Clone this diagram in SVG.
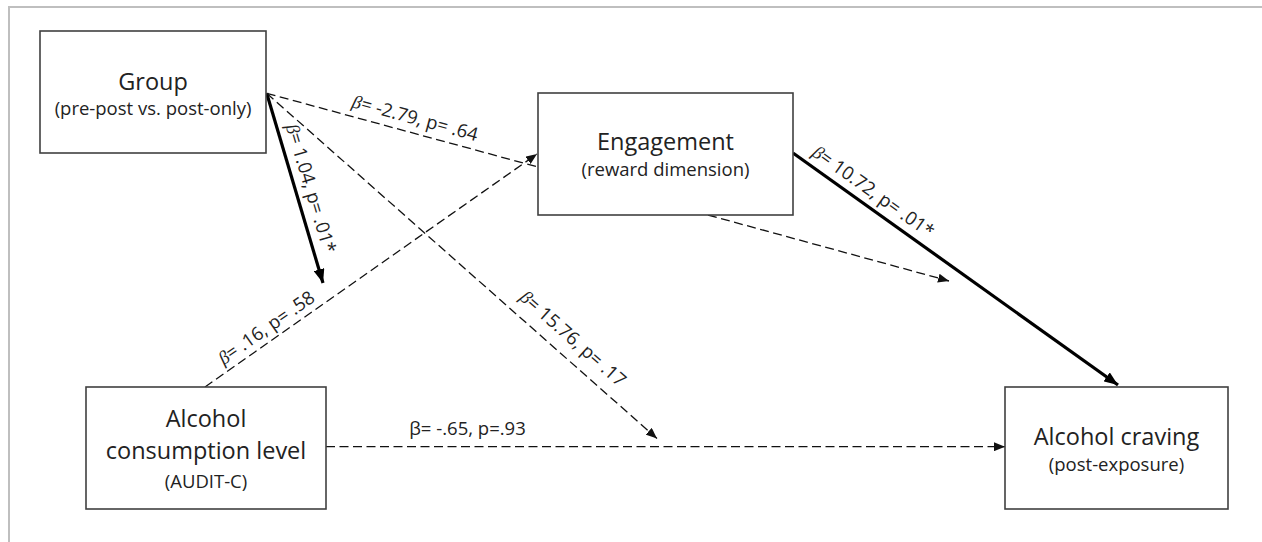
<svg xmlns="http://www.w3.org/2000/svg" width="1262" height="542" viewBox="0 0 1262 542">
<style>
.box{fill:#fff;stroke:#404040;stroke-width:1.6}
.t{font-family:"Open Sans","Liberation Sans",sans-serif;fill:#222;text-anchor:middle}
.h{font-size:23.5px}
.s{font-size:18.5px}
.lbl{font-family:"Open Sans","Liberation Sans",sans-serif;font-size:18.5px;fill:#222;text-anchor:middle}
.b{font-family:"Liberation Serif","DejaVu Serif",serif;font-style:italic}
.dash{fill:none;stroke:#111;stroke-width:1.3;stroke-dasharray:9 4.5}
.thick{fill:none;stroke:#000;stroke-width:3.2}
</style>
<defs>
<marker id="ad" markerUnits="userSpaceOnUse" markerWidth="11" markerHeight="9" refX="11" refY="4.5" orient="auto"><path d="M0,0 L11,4.5 L0,9 z" fill="#111"/></marker>
<marker id="at" markerUnits="userSpaceOnUse" markerWidth="14" markerHeight="11" refX="14" refY="5.5" orient="auto"><path d="M0,0 L14,5.5 L0,11 z" fill="#000"/></marker>
</defs>
<rect width="1262" height="542" fill="#fff"/>
<path d="M9,542 V7 H1262" fill="none" stroke="#bfbfbf" stroke-width="2"/>
<g id="connectors">
<line class="thick" x1="266.7" y1="93.3" x2="323" y2="283" marker-end="url(#at)"/>
<line class="dash" x1="266.7" y1="93.3" x2="538" y2="167"/>
<line class="dash" x1="266.7" y1="93.3" x2="657" y2="438.5" marker-end="url(#ad)"/>
<line class="dash" x1="205" y1="387" x2="537" y2="154" marker-end="url(#ad)"/>
<line class="dash" x1="708" y1="215" x2="949" y2="281" marker-end="url(#ad)"/>
<line class="thick" x1="793" y1="153" x2="1118" y2="385" marker-end="url(#at)"/>
<line class="dash" x1="326" y1="446.7" x2="1005" y2="446.7" marker-end="url(#ad)"/>
<g transform="translate(411.1,132.8) rotate(15.28)"><text class="lbl" x="0" y="-9"><tspan class="b">β</tspan>= -2.79, p= .64</text></g>
<g transform="translate(296.2,192.8) rotate(73.47)"><text class="lbl" x="0" y="-9"><tspan class="b">β</tspan>= 1.04, p= .01*</text></g>
<g transform="translate(273.9,338.6) rotate(-35.06)"><text class="lbl" x="0" y="-7"><tspan class="b">β</tspan>= .16, p= .58</text></g>
<g transform="translate(560.3,353) rotate(41.49)"><text class="lbl" x="0" y="-13"><tspan class="b">β</tspan>= 15.76, p= .17</text></g>
<g transform="translate(864.6,204.1) rotate(35.5)"><text class="lbl" x="0" y="-9"><tspan class="b">β</tspan>= 10.72, p= .01*</text></g>
<text class="lbl" x="467.5" y="435">β= -.65, p=.93</text>
</g>
<g id="group">
<rect class="box" x="40" y="31" width="226" height="122"/>
<text class="t h" x="153" y="90">Group</text>
<text class="t s" x="153" y="115">(pre-post vs. post-only)</text>
</g>
<g id="engagement">
<rect class="box" x="538" y="93" width="255" height="122"/>
<text class="t h" x="665.5" y="150">Engagement</text>
<text class="t s" x="665.5" y="176">(reward dimension)</text>
</g>
<g id="consumption">
<rect class="box" x="86" y="387" width="240" height="122"/>
<text class="t h" x="206" y="426.5">Alcohol</text>
<text class="t h" x="206" y="459">consumption level</text>
<text class="t s" x="206" y="488">(AUDIT-C)</text>
</g>
<g id="craving">
<rect class="box" x="1005" y="387" width="223" height="122"/>
<text class="t h" x="1116.5" y="445">Alcohol craving</text>
<text class="t s" x="1116.5" y="470.5">(post-exposure)</text>
</g>
</svg>
